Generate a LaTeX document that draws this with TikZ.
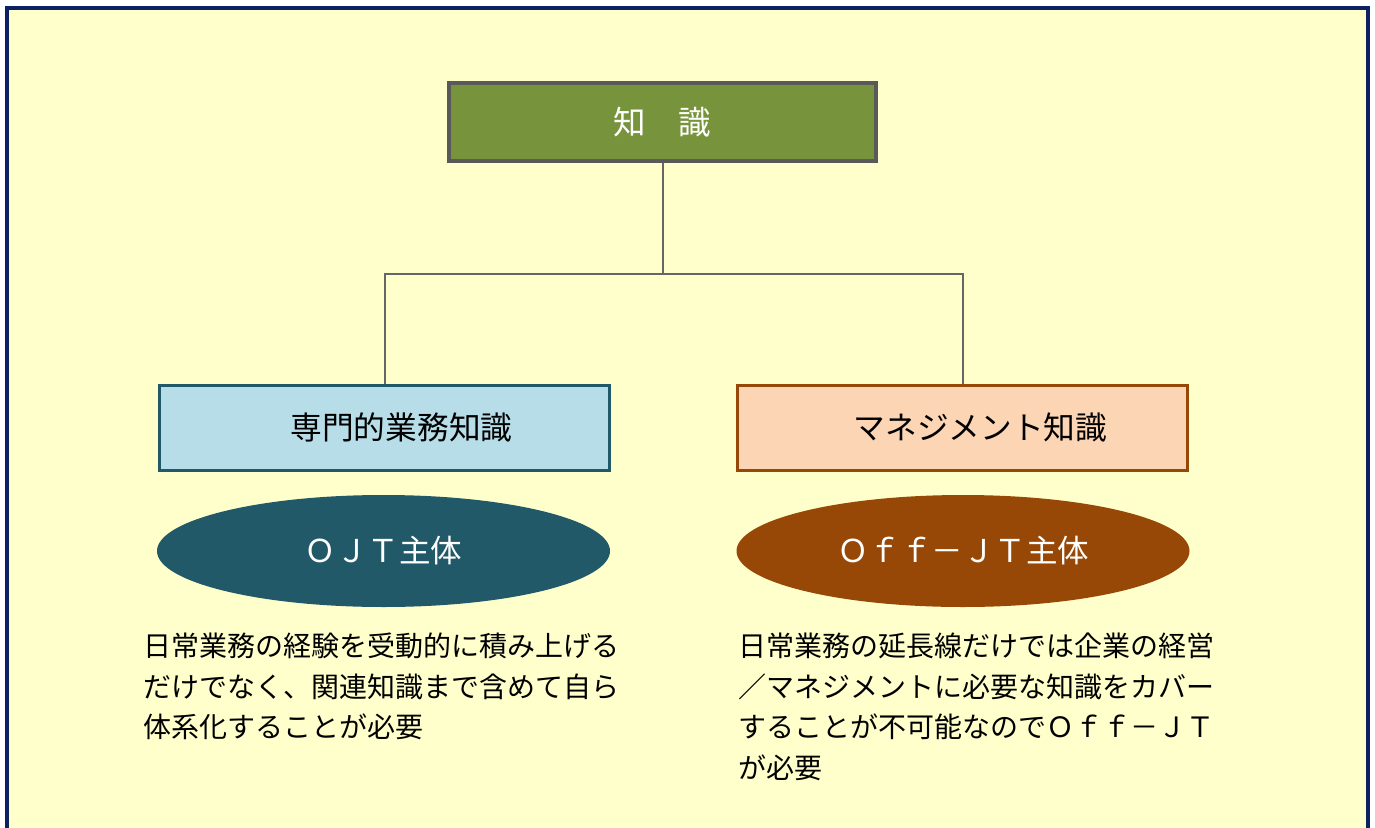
\documentclass[tikz,border=0pt]{standalone}
\usepackage{fontspec}
\setmainfont{Noto Sans CJK JP}
\usetikzlibrary{shapes.geometric}
\definecolor{bgyellow}{HTML}{FFFFCC}
\definecolor{framenavy}{HTML}{0B2160}
\definecolor{topfill}{HTML}{77933C}
\definecolor{graybd}{HTML}{595959}
\definecolor{connline}{HTML}{666666}
\definecolor{bluefill}{HTML}{B7DDE8}
\definecolor{tealdark}{HTML}{215968}
\definecolor{peachfill}{HTML}{FCD5B5}
\definecolor{brownd}{HTML}{974806}
\tikzset{
  boxstyle/.style={draw, line width=3.8pt, inner sep=0pt, minimum width=450pt, minimum height=85pt},
  ellstyle/.style={ellipse, inner sep=0pt, minimum width=453pt, minimum height=112pt, text=white,
    font=\fontsize{31.5}{36}\selectfont},
  desc/.style={anchor=north west, inner sep=0pt, align=left, font=\fontsize{28}{40.5}\selectfont},
  conn/.style={draw=connline, line width=2pt}
}
\begin{document}
\begin{tikzpicture}[x=1pt,y=-1pt]
\useasboundingbox (0,0) rectangle (1375,827);
\fill[white] (0,0) rectangle (1375,827);
\draw[draw=framenavy, line width=4.4pt, fill=bgyellow] (7,8) rectangle (1368,860);

\node[draw=graybd, fill=topfill, line width=3.8pt, inner sep=0pt, minimum width=427pt, minimum height=78pt,
  text=white, font=\fontsize{32.5}{36}\selectfont] (top) at (662.5,122) {知　識};

\node[boxstyle, draw=tealdark, fill=bluefill, font=\fontsize{31.7}{36}\selectfont] (left) at (384.5,428)
  {\raisebox{3pt}{\hspace*{34pt}専門的業務知識}};
\node[boxstyle, draw=brownd, fill=peachfill, font=\fontsize{31.7}{36}\selectfont] (right) at (962.5,428)
  {\raisebox{3pt}{\hspace*{36pt}マネジメント知識}};

\coordinate (j) at (662.5,274);
\draw[conn] (top.south) -- (j) -| (left.north);
\draw[conn] (j) -| (right.north);

\node[ellstyle, fill=tealdark] (ojt) at (383.5,551) {ＯＪＴ主体};
\node[ellstyle, fill=brownd] (offjt) at (963,551) {Ｏｆｆ－ＪＴ主体};

\node[desc] (ltext) at (143,633) {日常業務の経験を受動的に積み上げる\\だけでなく、関連知識まで含めて自ら\\体系化することが必要};
\node[desc] (rtext) at (738,633) {日常業務の延長線だけでは企業の経営\\／マネジメントに必要な知識をカバー\\することが不可能なのでＯｆｆ－ＪＴ\\が必要};
\end{tikzpicture}
\end{document}
